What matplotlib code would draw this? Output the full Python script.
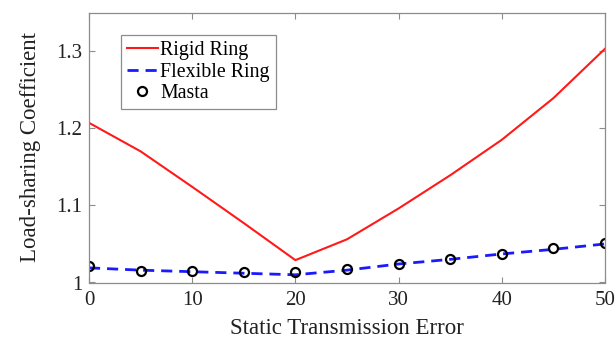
import numpy as np
import matplotlib.pyplot as plt

plt.rcParams['font.family'] = ['Liberation Serif', 'DejaVu Serif']

# static transmission error samples
ste = [0, 5, 10, 15, 20, 25, 30, 35, 40, 45, 50]

# load-sharing coefficient for the two ring models
rigid_ring = [1.207, 1.170, 1.124, 1.077, 1.029, 1.056, 1.096, 1.139, 1.185, 1.239, 1.303]
flexible_ring = [1.019, 1.016, 1.014, 1.012, 1.010, 1.016, 1.024, 1.030, 1.037, 1.043, 1.050]

# Masta reference points
masta = [1.022, 1.0155, 1.015, 1.013, 1.014, 1.017, 1.0245, 1.031, 1.0375, 1.045, 1.051]

fig = plt.figure(figsize=(6.16, 3.5), dpi=100)
ax = fig.add_axes([89/616, 1 - 282.5/350, (605 - 89)/616, (282.5 - 12.5)/350])

ax.plot(ste, rigid_ring, color='#ff1a1a', lw=1.5, label='Rigid Ring')
ax.plot(ste, flexible_ring, color='#1a1aff', lw=2.0, dashes=(4, 2.5), label='Flexible Ring')
ax.plot(ste, masta, 'o', ms=6.5, mfc='none', mec='black', mew=1.6, label='Masta')

ax.set_xlim(0, 50)
ax.set_ylim(1, 1.35)
ax.set_xticks([0, 10, 20, 30, 40, 50])
ax.set_yticks([1, 1.1, 1.2, 1.3])
ax.set_yticklabels(['1', '1.1', '1.2', '1.3'])

for s in ax.spines.values():
    s.set_color('#8c8c8c')
    s.set_linewidth(0.9)
ax.tick_params(direction='in', top=True, right=True, length=4, width=0.8,
               color='#8c8c8c', labelsize=15, labelcolor='#222222')
ax.tick_params(axis='x', pad=6)
ax.tick_params(axis='y', pad=5)

ax.set_xlabel('Static Transmission Error', fontsize=16.5, color='#222222', labelpad=6)
ax.set_ylabel('Load-sharing Coefficient', fontsize=16.5, color='#222222', labelpad=11)

leg = ax.legend(loc='upper left', bbox_to_anchor=(0.062, 0.915), fontsize=14.3,
                fancybox=False, framealpha=1, edgecolor='#8c8c8c',
                handlelength=1.55, handletextpad=0.12, borderpad=0.3,
                labelspacing=0.12, borderaxespad=0)
leg.get_frame().set_linewidth(0.9)

fig.savefig('out.png', dpi=100)
